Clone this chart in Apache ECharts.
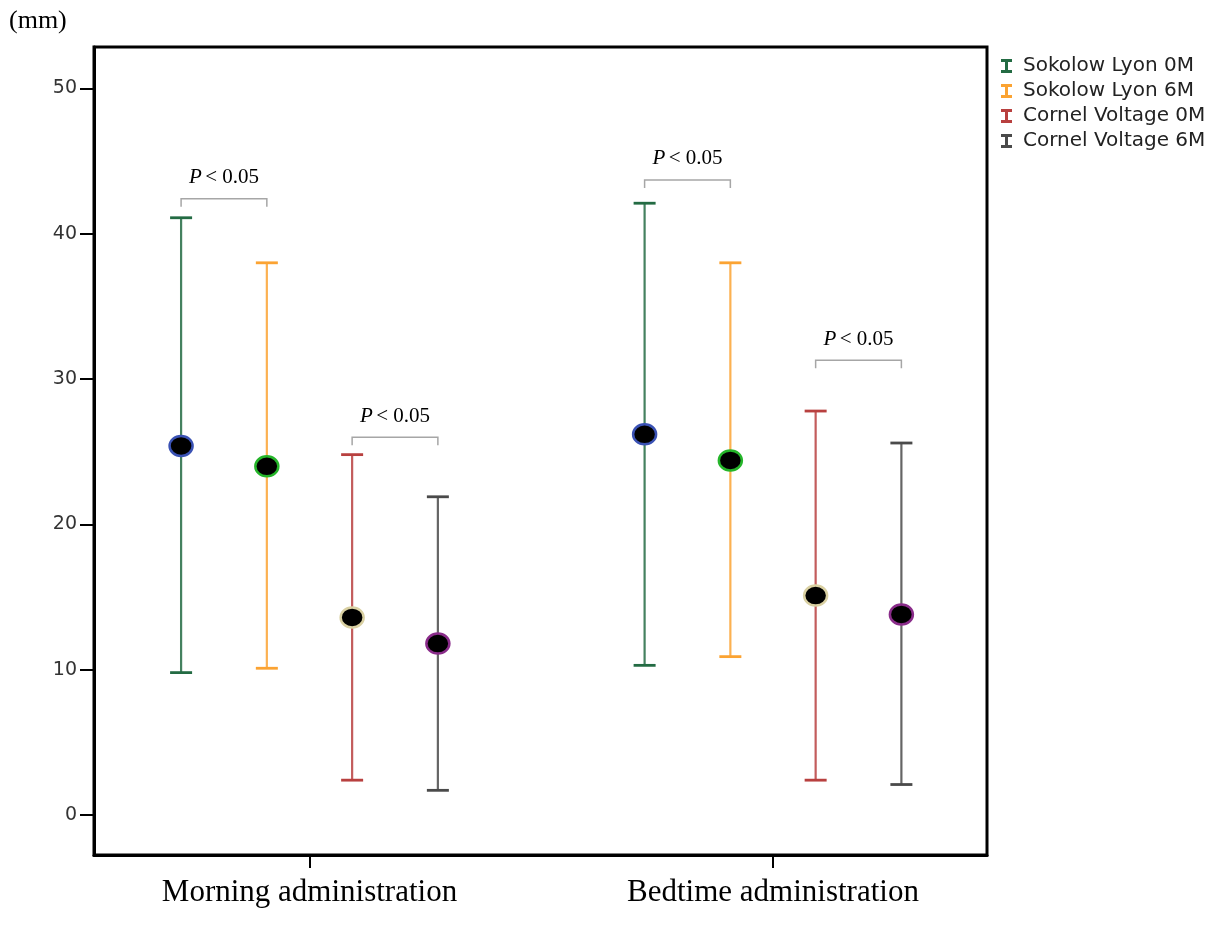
<!DOCTYPE html>
<html>
<head>
<meta charset="utf-8">
<title>Sokolow-Lyon and Cornell voltage by administration time</title>
<script src="https://cdn.jsdelivr.net/npm/echarts@6/dist/echarts.min.js"></script>
<style>
  html, body { margin: 0; padding: 0; background: #fff; }
  #chart { width: 1225px; height: 941px; }
</style>
</head>
<body>
<div id="chart"></div>
<script>
// Groups on the x axis
const categories = ['Morning administration', 'Bedtime administration'];

// One entry per series, one value per group
const seriesNames = ['Sokolow Lyon 0M', 'Sokolow Lyon 6M', 'Cornel Voltage 0M', 'Cornel Voltage 6M'];
const meanValues = [[25.4, 26.2], [24.0, 24.4], [13.6, 15.1], [11.8, 13.8]];
const lowValues  = [[9.8, 10.3], [10.1, 10.9], [2.4, 2.4], [1.7, 2.1]];
const highValues = [[41.1, 42.1], [38.0, 38.0], [24.8, 27.8], [21.9, 25.6]];

// Y-axis tick values
const yTicks = [0, 10, 20, 30, 40, 50];

// Significance brackets: group index, the pair of series they join, and the level (mm)
const bracketGroups = [0, 0, 1, 1];
const bracketPairs = [[0, 1], [2, 3], [0, 1], [2, 3]];
const bracketLevels = [42.4, 26.0, 43.7, 31.3];
const bracketText = ['P < 0.05', 'P < 0.05', 'P < 0.05', 'P < 0.05'];

// ---- layout / style ----
const slotOffset = [-0.277, -0.092, 0.092, 0.277];   // position of each series within a group
const lineColors = ['#236b43', '#fba332', '#b8403f', '#4a4a4a'];
const dotBorders = ['#3a52b4', '#25b52a', '#d9d0a2', '#8a2c8a'];

const chart = echarts.init(document.getElementById('chart'));

function errorBar(params, api) {
  const x = api.value(0);
  const lo = api.coord([x, api.value(1)]);
  const hi = api.coord([x, api.value(2)]);
  const mid = api.coord([x, api.value(3)]);
  const color = lineColors[params.seriesIndex];
  const cap = 11;
  return {
    type: 'group',
    children: [
      { type: 'line', shape: { x1: hi[0], y1: hi[1], x2: lo[0], y2: lo[1] },
        style: { stroke: color, lineWidth: 2.2, opacity: 0.85 } },
      { type: 'line', shape: { x1: hi[0] - cap, y1: hi[1], x2: hi[0] + cap, y2: hi[1] },
        style: { stroke: color, lineWidth: 2.8 } },
      { type: 'line', shape: { x1: lo[0] - cap, y1: lo[1], x2: lo[0] + cap, y2: lo[1] },
        style: { stroke: color, lineWidth: 2.8 } },
      { type: 'ellipse', shape: { cx: mid[0], cy: mid[1], rx: 11.5, ry: 10 },
        style: { fill: '#000', stroke: dotBorders[params.seriesIndex], lineWidth: 2.5 } }
    ]
  };
}

const barSeries = seriesNames.map(function (name, s) {
  return {
    name: name,
    type: 'custom',
    renderItem: errorBar,
    itemStyle: { color: lineColors[s] },
    encode: { x: 0, y: [1, 2, 3] },
    clip: false,
    data: categories.map(function (c, g) {
      return [g + 1 + slotOffset[s], lowValues[s][g], highValues[s][g], meanValues[s][g]];
    })
  };
});

const bracketSeries = {
  type: 'custom',
  silent: true,
  clip: false,
  encode: { x: [0, 1], y: 2 },
  renderItem: function (params, api) {
    const a = api.coord([api.value(0), api.value(2)]);
    const b = api.coord([api.value(1), api.value(2)]);
    const drop = 8;
    return {
      type: 'group',
      children: [
        { type: 'polyline',
          shape: { points: [[a[0], a[1] + drop], [a[0], a[1]], [b[0], b[1]], [b[0], b[1] + drop]] },
          style: { stroke: '#a6a6a6', lineWidth: 1.5, fill: null } },
        { type: 'text',
          style: {
            x: (a[0] + b[0]) / 2, y: a[1] - 21,
            text: '{p|P} {t|' + bracketText[params.dataIndex].slice(2) + '}',
            align: 'center', verticalAlign: 'middle',
            rich: {
              p: { fontFamily: 'Liberation Serif', fontStyle: 'italic', fontSize: 21, fill: '#000' },
              t: { fontFamily: 'Liberation Serif', fontSize: 21, fill: '#000' }
            }
          } }
      ]
    };
  },
  data: bracketLevels.map(function (lvl, i) {
    const g = bracketGroups[i] + 1;
    return [g + slotOffset[bracketPairs[i][0]], g + slotOffset[bracketPairs[i][1]], lvl];
  })
};

chart.setOption({
  animation: false,
  backgroundColor: '#fff',
  grid: {
    left: 94, right: 238, top: 47, bottom: 86,
    show: true, borderColor: '#000', borderWidth: 3, backgroundColor: '#fff'
  },
  legend: {
    orient: 'vertical',
    left: 996, top: 51,
    itemWidth: 11, itemHeight: 14, itemGap: 5,
    icon: 'path://M0,0H11V3H7V11H11V14H0V11H4V3H0Z',
    data: seriesNames,
    textStyle: { fontFamily: 'DejaVu Sans', fontSize: 20, color: '#222', padding: [0, 0, 0, 6] }
  },
  graphic: [{
    type: 'text', left: 9, top: 8,
    style: { text: '(mm)', fontFamily: 'Liberation Serif', fontSize: 26, fill: '#000' }
  }],
  xAxis: {
    type: 'value',
    min: 0.5351, max: 2.4617,
    axisLine: { show: true, onZero: false, lineStyle: { color: '#000', width: 3 } },
    splitLine: { show: false },
    axisTick: { show: true, customValues: [1, 2], length: 13, lineStyle: { color: '#000', width: 2 } },
    axisLabel: {
      customValues: [1, 2],
      formatter: function (v) { return categories[Math.round(v) - 1]; },
      margin: 22,
      fontFamily: 'Liberation Serif', fontSize: 31, color: '#000'
    }
  },
  yAxis: {
    type: 'value',
    min: -2.75, max: 52.85,
    axisLine: { show: true, onZero: false, lineStyle: { color: '#000', width: 3 } },
    splitLine: { show: false },
    axisTick: { show: true, customValues: yTicks, length: 14, lineStyle: { color: '#000', width: 2 } },
    axisLabel: {
      customValues: yTicks,
      margin: 17,
      fontFamily: 'DejaVu Sans', fontSize: 19, color: '#333'
    }
  },
  series: barSeries.concat([bracketSeries])
});
</script>
</body>
</html>
